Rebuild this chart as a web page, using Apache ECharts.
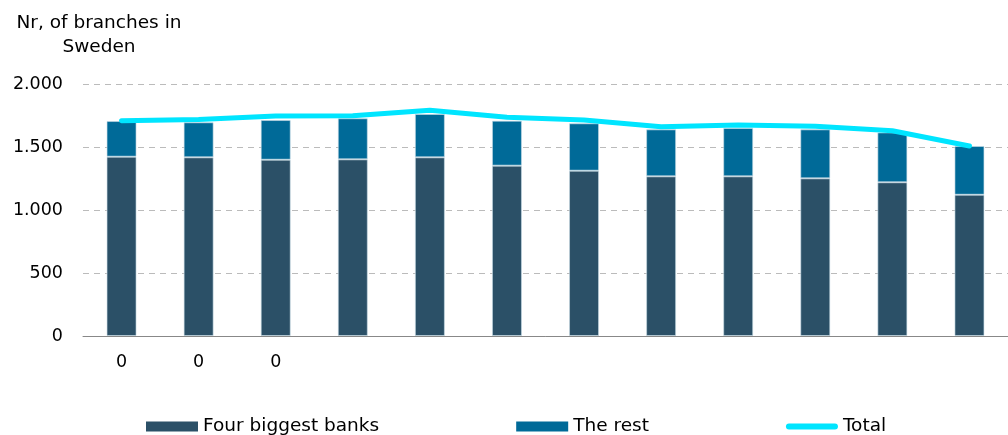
<!DOCTYPE html>
<html>
<head>
<meta charset="utf-8">
<script src="https://cdn.jsdelivr.net/npm/echarts@6/dist/echarts.min.js"></script>
<style>html,body{margin:0;padding:0;background:#fff}#c{width:1008px;height:435px}</style>
</head>
<body>
<div id="c"></div>
<script>
const xLabels = ['0','0','0','','','','','','','','',''];
const fourBiggest = [1423,1418,1399,1402,1418,1352,1312,1267,1267,1251,1220,1121];
const barTotals = [1706,1696,1714,1728,1762,1709,1688,1640,1651,1640,1616,1508];
const totalLine = [1709,1718,1746,1748,1792,1737,1714,1661,1675,1664,1629,1508];
const yTicks = [0,500,1000,1500,2000];
const theRest = barTotals.map((t,i)=>t-fourBiggest[i]);

const chart = echarts.init(document.getElementById('c'));
const font = 'DejaVu Sans';
chart.setOption({
  animation:false,
  textStyle:{fontFamily:font},
  graphic:[{type:'text',x:99,y:11,style:{text:'Nr, of branches in\nSweden',font:'18.5px "DejaVu Sans"',fill:'#000',lineHeight:24,align:'center',textAlign:'center'}}],
  grid:{left:83,top:84,width:929,height:252},
  legend:{left:146,top:417,padding:0,itemGap:137,itemWidth:52,itemHeight:10,
    textStyle:{fontSize:18.5,color:'#000',fontFamily:font},
    data:[{name:'Four biggest banks',icon:'rect',itemStyle:{borderWidth:0}},
      {name:'The rest',icon:'rect',itemStyle:{borderWidth:0}},
      {name:'Total',icon:'path://M3,0 L49,0 A3,3 0 0 1 49,6 L3,6 A3,3 0 0 1 3,0 Z',itemStyle:{color:'#00E5FF'}}]},
  xAxis:{type:'category',data:xLabels.map((l,i)=>'c'+i),
    axisLine:{lineStyle:{color:'#888',width:1}},axisTick:{show:false},
    axisLabel:{formatter:(v,i)=>xLabels[i],fontSize:17.5,color:'#000',margin:17,interval:0}},
  yAxis:{type:'value',min:0,max:2000,interval:500,
    axisLabel:{formatter:v=>{const s=String(v);return s.length>3?s.slice(0,-3)+'.'+s.slice(-3):s;},fontSize:17.5,color:'#000',margin:20},
    splitLine:{lineStyle:{type:[6,5],color:'#bbb',width:1}},
    axisLine:{show:false},axisTick:{show:false}},
  series:[
    {name:'Four biggest banks',type:'bar',stack:'s',barWidth:30,data:fourBiggest,
      itemStyle:{color:'#2B5067',borderColor:'rgba(200,220,230,0.6)',borderWidth:1}},
    {name:'The rest',type:'bar',stack:'s',barWidth:30,data:theRest,
      itemStyle:{color:'#006A98',borderColor:'rgba(200,220,230,0.6)',borderWidth:1}},
    {name:'Total',type:'line',data:totalLine,symbol:'none',
      lineStyle:{color:'#00E5FF',width:5,cap:'round',join:'round'},itemStyle:{color:'#00E5FF'}}
  ]
});
</script>
</body>
</html>
